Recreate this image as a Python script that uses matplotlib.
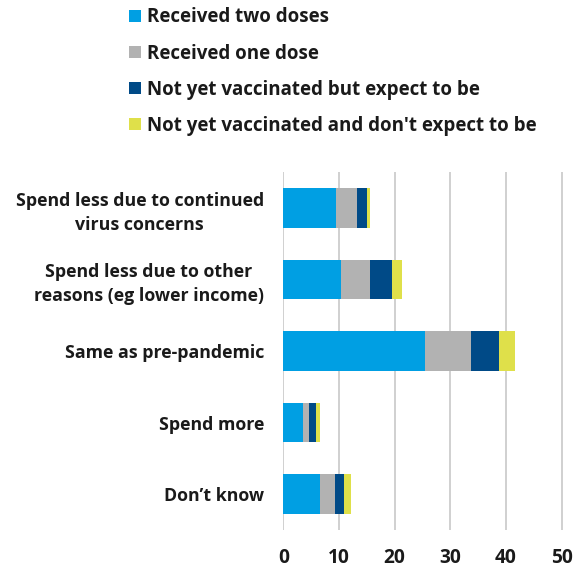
import matplotlib
matplotlib.use("Agg")
import matplotlib.pyplot as plt
from matplotlib.patches import Patch
import numpy as np

plt.rcParams['font.family'] = ['Open Sans', 'DejaVu Sans']
plt.rcParams['font.weight'] = 'bold'

# survey answers, top to bottom
categories = [
    "Spend less due to continued\nvirus concerns",
    "Spend less due to other\nreasons (eg lower income)",
    "Same as pre-pandemic",
    "Spend more",
    "Don\u2019t know",
]
series_names = [
    "Received two doses",
    "Received one dose",
    "Not yet vaccinated but expect to be",
    "Not yet vaccinated and don't expect to be",
]
two_doses = [9.4, 10.3, 25.5, 3.5, 6.55]
one_dose = [3.8, 5.2, 8.25, 1.15, 2.8]
expect = [1.75, 4.0, 5.05, 1.15, 1.5]
not_expect = [0.65, 1.8, 2.75, 0.75, 1.35]
xticks = [0, 10, 20, 30, 40, 50]

colors = ['#009FE3', '#B2B2B2', '#004A87', '#DFE04A']
txt = '#1a1a1a'

fig = plt.figure(figsize=(5.8, 5.68), dpi=100)
ax = fig.add_axes([0.4885, 0.0669, 0.4827, 0.6301])

y = np.arange(len(categories))
left = np.zeros(len(categories))
for vals, col in zip([two_doses, one_dose, expect, not_expect], colors):
    ax.barh(y, vals, left=left, height=0.555, color=col, zorder=3)
    left += np.array(vals)

ax.set_ylim(4.5, -0.5)
ax.set_xlim(0, 50.3)
ax.set_xticks(xticks)
ax.set_xticklabels([str(t) for t in xticks], fontsize=13.8, fontweight='bold', color=txt)
ax.set_yticks(y)
ax.set_yticklabels(categories, fontsize=12.8, fontweight='bold', color=txt,
                   multialignment='center', linespacing=1.42)
ax.tick_params(axis='both', length=0)
ax.tick_params(axis='y', pad=14)
ax.tick_params(axis='x', pad=13)
ax.grid(axis='x', color='#c8c8c8', linewidth=1.2, zorder=0)
for s in ax.spines.values():
    s.set_visible(False)

handles = [Patch(facecolor=c, edgecolor='none') for c in colors]
fig.legend(handles, series_names, loc='upper left', bbox_to_anchor=(0.21, 1.0),
           frameon=False, prop={'size': 13.5, 'weight': 'bold'},
           handlelength=0.62, handleheight=0.62, handletextpad=0.3,
           labelspacing=0.86, labelcolor=txt, borderaxespad=0)

fig.savefig('out.png', dpi=100)
